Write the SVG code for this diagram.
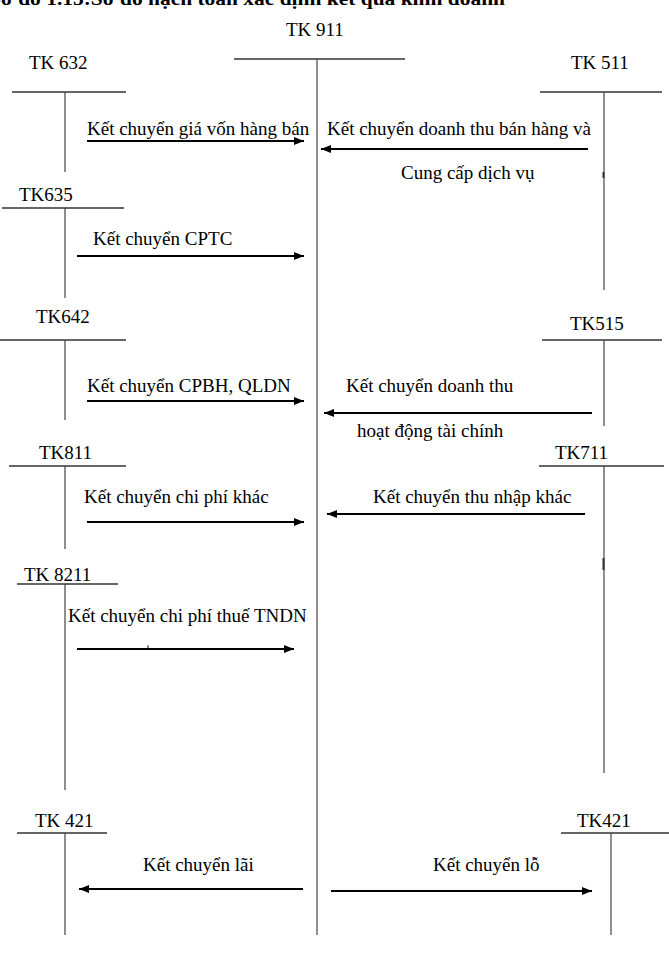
<svg xmlns="http://www.w3.org/2000/svg" width="669" height="957" viewBox="0 0 669 957">
<style>
  text { font-family: "Liberation Serif", "Times New Roman", serif; font-size: 19px; fill: #000; }
  .title { font-weight: bold; }
  .hl { stroke: #333; stroke-width: 1.3; fill: none; }
  .vl { stroke: #444; stroke-width: 1.2; fill: none; }
  .arr { stroke: #000; stroke-width: 2; fill: none; marker-end: url(#ah); }
</style>
<defs>
  <marker id="ah" markerUnits="userSpaceOnUse" markerWidth="10" markerHeight="8" refX="10" refY="4" orient="auto">
    <path d="M0,0 L10,4 L0,8 z" fill="#000"/>
  </marker>
</defs>
<rect x="0" y="0" width="669" height="957" fill="#fff"/>
<text class="title" x="-11" y="5" textLength="516" lengthAdjust="spacingAndGlyphs">Sơ đồ 1.15:Sơ đồ hạch toán xác định kết quả kinh doanh</text>

<g id="tk911">
  <text x="286" y="36">TK 911</text>
  <line class="hl" x1="234" y1="59" x2="405" y2="59"/>
  <line class="vl" x1="317" y1="59" x2="317" y2="935"/>
</g>
<g id="tk632">
  <text x="29" y="69">TK 632</text>
  <line class="hl" x1="12" y1="92" x2="126" y2="92"/>
  <line class="vl" x1="65" y1="92" x2="65" y2="172"/>
</g>
<g id="tk511">
  <text x="571" y="69">TK 511</text>
  <line class="hl" x1="540" y1="92" x2="662" y2="92"/>
  <line class="vl" x1="604" y1="92" x2="604" y2="290"/>
  <line stroke="#333" stroke-width="2" x1="603.5" y1="172" x2="603.5" y2="178"/>
</g>
<g id="tk635">
  <text x="19" y="201">TK635</text>
  <line class="hl" x1="2" y1="208" x2="124" y2="208"/>
  <line class="vl" x1="65" y1="208" x2="65" y2="298"/>
</g>
<g id="tk642">
  <text x="36" y="323">TK642</text>
  <line class="hl" x1="0" y1="340" x2="126" y2="340"/>
  <line class="vl" x1="65" y1="340" x2="65" y2="420"/>
</g>
<g id="tk515">
  <text x="570" y="330">TK515</text>
  <line class="hl" x1="542" y1="340" x2="662" y2="340"/>
  <line class="vl" x1="604" y1="340" x2="604" y2="426"/>
</g>
<g id="tk811">
  <text x="39" y="459">TK811</text>
  <line class="hl" x1="9" y1="466" x2="126" y2="466"/>
  <line class="vl" x1="65" y1="466" x2="65" y2="549"/>
</g>
<g id="tk711">
  <text x="555" y="459">TK711</text>
  <line class="hl" x1="539" y1="466" x2="664" y2="466"/>
  <line class="vl" x1="604" y1="466" x2="604" y2="773"/>
  <line stroke="#333" stroke-width="2" x1="603.5" y1="558" x2="603.5" y2="570"/>
</g>
<g id="tk8211">
  <text x="24" y="581">TK 8211</text>
  <line class="hl" x1="17" y1="584" x2="118" y2="584"/>
  <line class="vl" x1="65" y1="584" x2="65" y2="790"/>
</g>
<g id="tk421-left">
  <text x="35" y="827">TK 421</text>
  <line class="hl" x1="17" y1="833" x2="107" y2="833"/>
  <line class="vl" x1="65" y1="833" x2="65" y2="935"/>
</g>
<g id="tk421-right">
  <text x="577" y="827">TK421</text>
  <line class="hl" x1="561" y1="833" x2="669" y2="833"/>
  <line class="vl" x1="611" y1="833" x2="611" y2="935"/>
</g>

<g id="connectors">
  <line class="arr" x1="87" y1="141" x2="304" y2="141"/>
  <line class="arr" x1="588" y1="149" x2="321" y2="149"/>
  <line class="arr" x1="77" y1="256" x2="304" y2="256"/>
  <line class="arr" x1="87" y1="401" x2="304" y2="401"/>
  <line class="arr" x1="592" y1="413" x2="324" y2="413"/>
  <line class="arr" x1="87" y1="522" x2="304" y2="522"/>
  <line class="arr" x1="585" y1="514" x2="327" y2="514"/>
  <line class="arr" x1="77" y1="649" x2="294" y2="649"/>
  <line stroke="#000" stroke-width="1" x1="148" y1="645.5" x2="148" y2="649"/>
  <line class="arr" x1="303" y1="889" x2="79" y2="889"/>
  <line class="arr" x1="331" y1="891" x2="592" y2="891"/>
</g>

<g id="labels">
  <text x="87" y="135">Kết chuyển giá vốn hàng bán</text>
  <text x="327" y="135">Kết chuyển doanh thu bán hàng và</text>
  <text x="401" y="179">Cung cấp dịch vụ</text>
  <text x="93" y="245">Kết chuyển CPTC</text>
  <text x="87" y="392">Kết chuyển CPBH, QLDN</text>
  <text x="346" y="392">Kết chuyển doanh thu</text>
  <text x="357" y="437">hoạt động tài chính</text>
  <text x="84" y="503">Kết chuyển chi phí khác</text>
  <text x="373" y="503">Kết chuyển thu nhập khác</text>
  <text x="68" y="622">Kết chuyển chi phí thuế TNDN</text>
  <text x="143" y="871">Kết chuyển lãi</text>
  <text x="433" y="871">Kết chuyển lỗ</text>
</g>
</svg>
